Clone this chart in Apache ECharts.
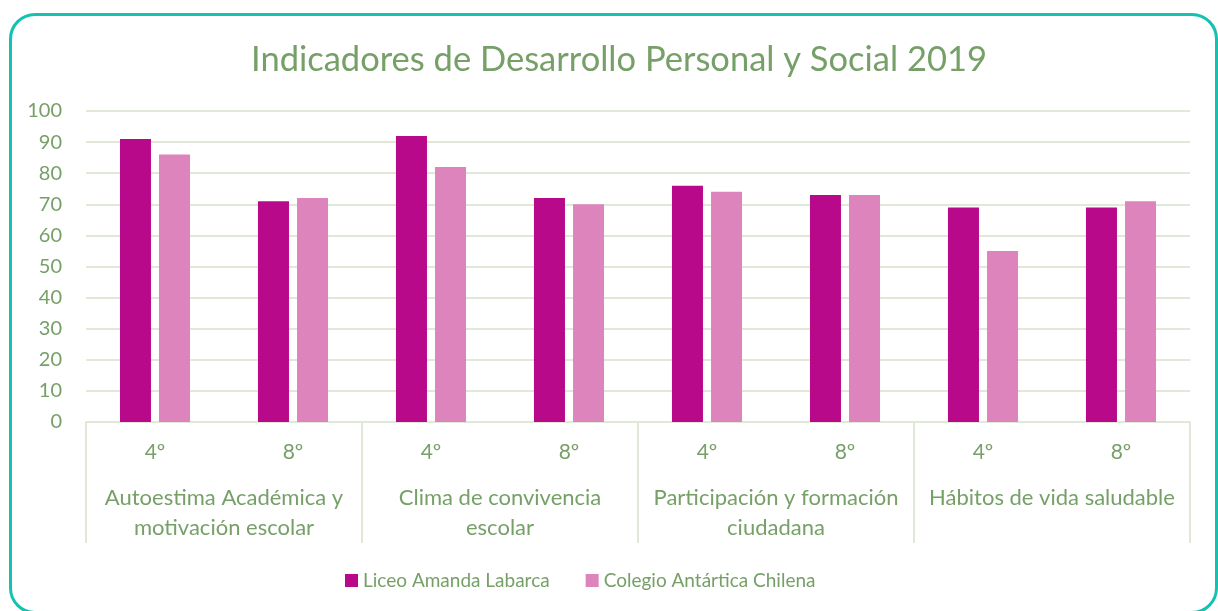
<!DOCTYPE html>
<html>
<head>
<meta charset="utf-8">
<script src="https://cdn.jsdelivr.net/npm/echarts@6/dist/echarts.min.js"></script>
<style>
  html, body { margin: 0; padding: 0; background: #fff; overflow: hidden; }
  #frame {
    position: absolute; left: 9px; top: 13px; width: 1209px; height: 601px;
    box-sizing: border-box; border: 3px solid #14C2B2; border-radius: 26px;
  }
  #chart { position: absolute; left: 0; top: 0; width: 1218px; height: 611px; }
</style>
</head>
<body>
<div id="frame"></div>
<div id="chart"></div>
<script>
// grades inside each indicator
const grades = ['4º', '8º', '4º', '8º', '4º', '8º', '4º', '8º'];
// indicator groups (two grades each)
const groups = [
    'Autoestima Académica y\nmotivación escolar',
    'Clima de convivencia\nescolar',
    'Participación y formación\nciudadana',
    'Hábitos de vida saludable'
];
const liceo = [91, 71, 92, 72, 76, 73, 69, 69];
const colegio = [86, 72, 82, 70, 74, 73, 55, 71];
const seriesNames = ['Liceo Amanda Labarca', 'Colegio Antártica Chilena'];

const textColor = '#76A068';
const lineColor = '#E0E8D8';
const font = 'Lato';

let myChart = echarts.init(document.getElementById('chart'));

let option = {
    animation: false,
    textStyle: {fontFamily: font},
    title: {
        text: 'Indicadores de Desarrollo Personal y Social 2019',
        left: 246,
        top: 37,
        textStyle: {color: textColor, fontSize: 34.5, fontWeight: 'normal', fontFamily: font}
    },
    legend: {
        bottom: 16,
        left: 340,
        itemWidth: 13,
        itemHeight: 13,
        itemGap: 36,
        icon: 'rect',
        textStyle: {color: textColor, fontSize: 19, fontFamily: font},
        data: seriesNames
    },
    grid: {
        left: 86,
        right: 28,
        top: 111,
        bottom: 189
    },
    xAxis: [
        {
            type: 'category',
            data: grades,
            axisLine: {lineStyle: {color: lineColor, width: 2}},
            axisTick: {show: false},
            axisLabel: {color: textColor, fontSize: 21, margin: 20, interval: 0}
        },
        {
            type: 'category',
            data: groups,
            position: 'bottom',
            axisLine: {show: false},
            axisTick: {show: true, length: 121, lineStyle: {color: lineColor, width: 2}},
            axisLabel: {color: textColor, fontSize: 22, margin: 61, lineHeight: 30, interval: 0}
        }
    ],
    yAxis: {
        type: 'value',
        min: 0,
        max: 100,
        interval: 10,
        axisLine: {show: false},
        axisTick: {show: false},
        axisLabel: {color: textColor, fontSize: 20, margin: 24},
        splitLine: {lineStyle: {color: lineColor, width: 2}}
    },
    series: [
        {
            name: seriesNames[0],
            type: 'bar',
            data: liceo,
            barWidth: 31,
            barGap: '26%',
            itemStyle: {color: '#B9098B'}
        },
        {
            name: seriesNames[1],
            type: 'bar',
            data: colegio,
            barWidth: 31,
            itemStyle: {color: '#DE84BC'}
        }
    ]
};
myChart.setOption(option);
</script>
</body>
</html>
